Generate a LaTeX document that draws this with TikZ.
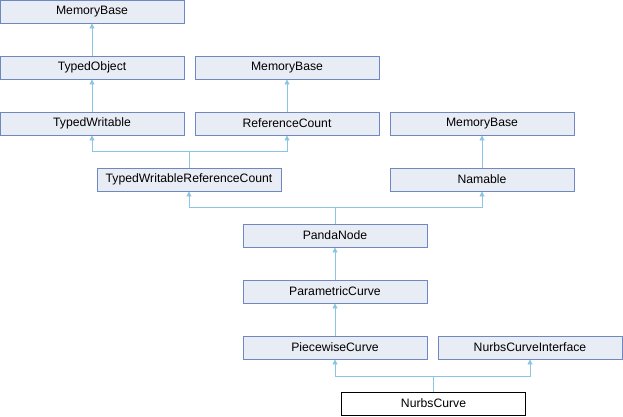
\documentclass[tikz,border=0pt]{standalone}
\usepackage{fontspec}
\setmainfont{Liberation Sans}
\usetikzlibrary{arrows.meta}
\definecolor{boxfill}{HTML}{E8ECF4}
\definecolor{boxdraw}{HTML}{7088C0}
\definecolor{edgecol}{HTML}{8CC4E4}
\tikzset{
  cls/.style={draw=boxdraw, fill=boxfill, line width=0.9pt, minimum width=184pt, minimum height=23pt, inner sep=0pt, font=\fontsize{12.2}{14}\selectfont},
  cur/.style={cls, draw=black, fill=white},
  edge/.style={draw=edgecol, line width=0.9pt, -{Triangle[length=5pt,width=5pt]}},
}
\begin{document}
\begin{tikzpicture}[x=1pt,y=1pt]
\useasboundingbox (0,0) rectangle (623,-416);
\node[cls] (mb1) at (92,-11.5) {MemoryBase};
\node[cls] (to) at (92,-67.5) {TypedObject};
\node[cls] (tw) at (92,-123.5) {TypedWritable};
\node[cls] (mb2) at (287,-67.5) {MemoryBase};
\node[cls] (rc) at (287,-123.5) {ReferenceCount};
\node[cls] (mb3) at (482,-123.5) {MemoryBase};
\node[cls] (twrc) at (189,-179.5) {TypedWritableReferenceCount};
\node[cls] (nam) at (482,-179.5) {Namable};
\node[cls] (pn) at (335,-235.5) {PandaNode};
\node[cls] (pc) at (335,-291.5) {ParametricCurve};
\node[cls] (pwc) at (335,-347.5) {PiecewiseCurve};
\node[cls] (nci) at (530,-347.5) {NurbsCurveInterface};
\node[cur] (nc) at (433.5,-403.5) {NurbsCurve};

\draw[edge] (to.north) -- (mb1.south);
\draw[edge] (tw.north) -- (to.south);
\draw[edge] (rc.north) -- (mb2.south);
\draw[edge] (nam.north) -- (mb3.south);
\draw[edge] (twrc.north) -- ++(0,16) -| (tw.south);
\draw[edge] (twrc.north) -- ++(0,16) -| (rc.south);
\draw[edge] (pn.north) -- ++(0,16) -| (twrc.south);
\draw[edge] (pn.north) -- ++(0,16) -| (nam.south);
\draw[edge] (pwc.north) -- (pc.south);
\draw[edge] (pc.north) -- (pn.south);
\draw[edge] (nc.north) -- ++(0,15) -| (pwc.south);
\draw[edge] (nc.north) -- ++(0,15) -| (nci.south);
\end{tikzpicture}
\end{document}
